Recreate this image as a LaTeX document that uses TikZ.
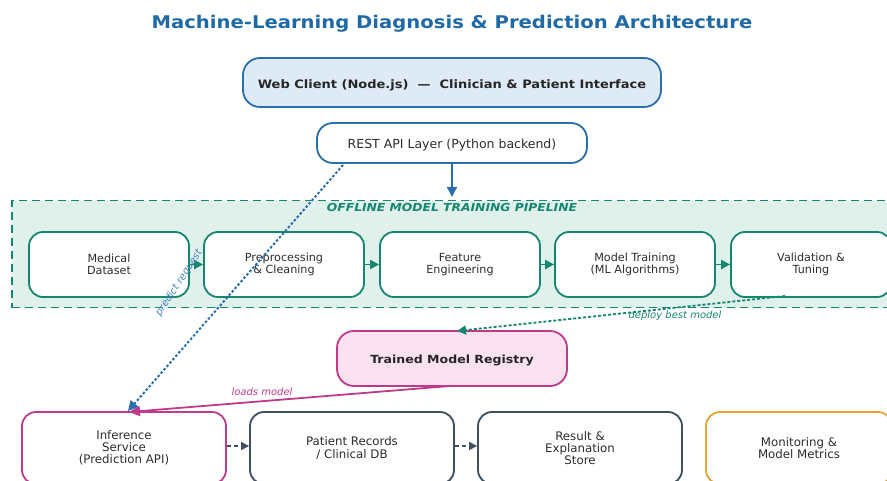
\documentclass[tikz,border=0pt]{standalone}
\usepackage{fontspec}
\setmainfont{DejaVu Sans}
\newfontfamily\wideb{DejaVu Sans}[FakeStretch=1.12]
\usetikzlibrary{arrows.meta}
\definecolor{titleblue}{RGB}{31,106,166}
\definecolor{cblue}{RGB}{42,110,170}
\definecolor{cbluefill}{RGB}{222,235,246}
\definecolor{lblue}{RGB}{70,130,190}
\definecolor{teal}{RGB}{20,135,110}
\definecolor{tealfill}{RGB}{224,240,235}
\definecolor{mag}{RGB}{192,58,138}
\definecolor{magfill}{RGB}{249,225,239}
\definecolor{slate}{RGB}{62,79,95}
\definecolor{orng}{RGB}{228,165,50}
\definecolor{txt}{RGB}{45,45,45}
\tikzset{
  box/.style={rounded corners=14pt, line width=1.8pt, fill=white, align=center, inner sep=0pt, text=txt},
  pipebox/.style={box, draw=teal, minimum width=160pt, minimum height=65pt, font=\fontsize{11.2}{11.8}\selectfont},
  botbox/.style={box, minimum width=204pt, minimum height=72pt, font=\fontsize{11.8}{12.2}\selectfont},
  tarrow/.style={draw=teal, line width=1.8pt, -{Triangle[length=9pt,width=9pt]}},
  sarrow/.style={draw=slate, line width=1.6pt, dashed, dash pattern=on 4pt off 3pt, -{Triangle[length=8pt,width=8pt]}},
  lbl/.style={font=\fontsize{10}{12}\selectfont\itshape, inner sep=1pt}
}
\begin{document}
\begin{tikzpicture}[x=1pt,y=-1pt]
\clip (0,0) rectangle (887,481);
\fill[white] (0,0) rectangle (887,481);

\node[font=\wideb\fontsize{17.5}{20}\selectfont\bfseries, text=titleblue] (title) at (452,24) {Machine-Learning Diagnosis \& Prediction Architecture};

\node[box, draw=cblue, fill=cbluefill, rounded corners=17pt, minimum width=418pt, minimum height=49pt, text height=12.6pt, text depth=1.5pt, font=\wideb\fontsize{11.6}{13}\selectfont\bfseries, text=black!85] (web) at (452,82.5) {Web Client (Node.js)\ \ —\ \ Clinician \& Patient Interface};

\node[box, draw=cblue, rounded corners=16pt, minimum width=270pt, minimum height=40pt, text height=13.4pt, text depth=1.6pt, font=\fontsize{12.5}{14}\selectfont] (rest) at (452,143) {REST API Layer (Python backend)};

% pipeline container
\node[draw=teal, fill=tealfill, line width=1.5pt, dash pattern=on 8pt off 5pt, minimum width=890pt, minimum height=107pt, inner sep=0pt, anchor=north west] (pipe) at (11,200) {};
\node[font=\wideb\fontsize{11}{13}\selectfont\bfseries\itshape, text=teal] (pipelbl) at (452,207.5) {OFFLINE MODEL TRAINING PIPELINE};

\node[pipebox] (p1) at (109,264.5) {Medical\\Dataset};
\node[pipebox] (p2) at (284,264.5) {Preprocessing\\\& Cleaning};
\node[pipebox] (p3) at (460,264.5) {Feature\\Engineering};
\node[pipebox] (p4) at (635,264.5) {Model Training\\(ML Algorithms)};
\node[pipebox] (p5) at (811,264.5) {Validation \&\\Tuning};

\draw[tarrow] (p1) -- (p2);
\draw[tarrow] (p2) -- (p3);
\draw[tarrow] (p3) -- (p4);
\draw[tarrow] (p4) -- (p5);

\draw[draw=cblue, line width=1.8pt, -{Triangle[length=10pt,width=10pt]}] (rest.south) -- ++(0,33) coordinate (restend);

\node[box, draw=mag, fill=magfill, rounded corners=17pt, minimum width=230pt, minimum height=55pt, text height=10.5pt, text depth=1pt, font=\wideb\fontsize{11.2}{13}\selectfont\bfseries, text=black!85] (reg) at (452,358.5) {Trained Model Registry};

\node[botbox, draw=mag] (inf) at (124,448) {Inference\\Service\\(Prediction API)};
\node[botbox, draw=slate] (pat) at (352,448) {Patient Records\\/ Clinical DB};
\node[botbox, draw=slate] (res) at (580,448) {Result \&\\Explanation\\Store};
\node[botbox, draw=orng, minimum width=186pt] (mon) at (799,448) {Monitoring \&\\Model Metrics};

\draw[sarrow] (inf.east |- 0,446) -- (pat.west |- 0,446);
\draw[sarrow] (pat.east |- 0,446) -- (res.west |- 0,446);

% predict request
\coordinate (prstart) at (343,165);
\coordinate (infin) at (128,411);
\draw[draw=cblue, line width=2pt, dash pattern=on 2.5pt off 2pt, -{Triangle[length=10pt,width=10pt]}] (prstart) -- (infin);
\node[lbl, text=lblue, rotate=57] (prl) at (179,283) {predict request};

% deploy best model
\coordinate (dstart) at (785,296);
\coordinate (regin) at (457,331);
\draw[draw=teal, line width=1.8pt, dash pattern=on 3pt off 2pt, -{Triangle[length=9pt,width=9pt]}] (dstart) -- (regin);
\node[lbl, text=teal] (dl) at (675,316) {deploy best model};

% loads model
\coordinate (lstart) at (450,386);
\coordinate (infin2) at (129,412);
\draw[draw=mag, line width=1.8pt, -{Triangle[length=11pt,width=10pt]}] (lstart) -- (infin2);
\node[lbl, text=mag] (ll) at (262,392) {loads model};
\end{tikzpicture}
\end{document}
